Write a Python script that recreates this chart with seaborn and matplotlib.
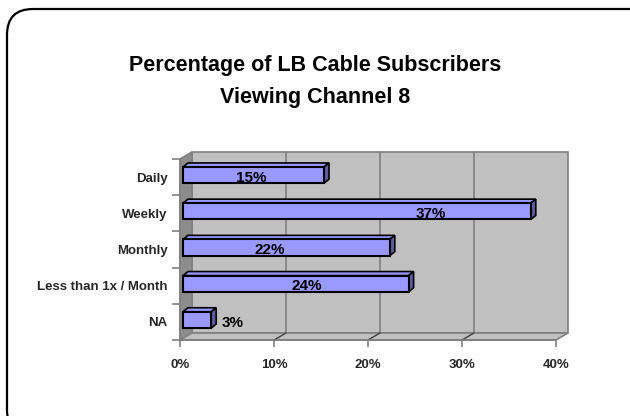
import numpy as np
import pandas as pd
import seaborn as sns
import matplotlib.pyplot as plt
from matplotlib.patches import Polygon, FancyBboxPatch
from matplotlib.transforms import ScaledTranslation

#------------------------------------------------------------------------------------

categories = ["Daily", "Weekly", "Monthly", "Less than 1x / Month", "NA"]
values = [15, 37, 22, 24, 3]
value_labels = ["15%", "37%", "22%", "24%", "3%"]
x_ticks = [0, 10, 20, 30, 40]
x_tick_labels = ["0%", "10%", "20%", "30%", "40%"]
title_lines = ["Percentage of LB Cable Subscribers", "Viewing Channel 8"]

# where Excel put each value label (data units along x)
label_x = [7.6, 26.7, 9.6, 13.5, 5.6]

BAR = "#9999FF"
BAR_SIDE = "#5C5C9E"
WALL = "#C0C0C0"
WALL_DARK = "#8C8C8C"
GRID = "#808080"

sns.set_theme(style="white")
plt.rcParams["font.family"] = ["Liberation Sans", "DejaVu Sans"]
plt.rcParams["font.weight"] = "bold"

W, H = 630, 416
fig = plt.figure(figsize=(W / 100, H / 100), dpi=100)

# rounded frame around the chart, drawn in pixel units
frame_ax = fig.add_axes([0, 0, 1, 1])
frame_ax.set_xlim(0, W)
frame_ax.set_ylim(0, H)
frame_ax.axis("off")
frame_ax.add_patch(FancyBboxPatch(
    (7, -20), 650, H - 9 + 20, boxstyle="round,pad=0,rounding_size=26",
    fc="none", ec="black", lw=1.6
))

for line, ypx in zip(title_lines, [65, 98]):
    fig.text(0.5, (H - ypx) / H, line, ha="center", va="center", fontsize=15.5,
             fontweight="bold", color="black")

# front plane of the 3D plot
x0_px, x1_px, top_px, bot_px = 180, 556, 159, 340
ax = fig.add_axes([x0_px / W, (H - bot_px) / H, (x1_px - x0_px) / W, (bot_px - top_px) / H])
ax.patch.set_visible(False)

df = pd.DataFrame({"category": categories, "value": values})
sns.barplot(data=df, x="value", y="category", orient="h", color=BAR,
            saturation=1, width=0.45, edgecolor="black", linewidth=1.5, ax=ax, zorder=5)

ax.set_xlim(0, 40)
ax.set_ylim(len(categories) - 0.5, -0.5)

# pixel -> data conversion helpers
ppx = (x1_px - x0_px) / 40.0
ppy = (bot_px - top_px) / float(len(categories))
def dx(px):
    return px / ppx
def dy(px):
    # y axis is inverted: moving up on screen is negative in data
    return -px / ppy

depth_x, depth_y = 12, 7
ylo, yhi = len(categories) - 0.5, -0.5

# back wall, left wall, floor
ax.add_patch(Polygon([(dx(depth_x), ylo + dy(depth_y)), (40 + dx(depth_x), ylo + dy(depth_y)),
                      (40 + dx(depth_x), yhi + dy(depth_y)), (dx(depth_x), yhi + dy(depth_y))],
                     fc=WALL, ec=GRID, lw=1.2, zorder=1, clip_on=False))
ax.add_patch(Polygon([(0, ylo), (dx(depth_x), ylo + dy(depth_y)),
                      (dx(depth_x), yhi + dy(depth_y)), (0, yhi)],
                     fc=WALL_DARK, ec=GRID, lw=1.2, zorder=1, clip_on=False))
ax.add_patch(Polygon([(0, ylo), (40, ylo), (40 + dx(depth_x), ylo + dy(depth_y)),
                      (dx(depth_x), ylo + dy(depth_y))],
                     fc=WALL, ec=GRID, lw=1.2, zorder=1, clip_on=False))

# gridlines on the back wall and floor
for t in x_ticks[1:-1]:
    ax.plot([t + dx(depth_x)] * 2, [ylo + dy(depth_y), yhi + dy(depth_y)],
            color=GRID, lw=1.2, zorder=2, clip_on=False)
    ax.plot([t, t + dx(depth_x)], [ylo, ylo + dy(depth_y)],
            color="#404040", lw=1.0, zorder=2, clip_on=False)

# 3D faces for the bars, then shift bars slightly back into the scene
shift = ScaledTranslation(3 / 100, 2 / 100, fig.dpi_scale_trans)
bd_x, bd_y = 5, 4
for p in ax.patches:
    if p.get_zorder() != 5:
        continue
    bx0, by0 = p.get_x(), p.get_y()
    bx1, by1 = bx0 + p.get_width(), by0 + p.get_height()
    ytop = min(by0, by1)
    ybot = max(by0, by1)
    top = Polygon([(bx0, ytop), (bx1, ytop), (bx1 + dx(bd_x), ytop + dy(bd_y)),
                   (bx0 + dx(bd_x), ytop + dy(bd_y))],
                  fc=BAR, ec="black", lw=1.2, zorder=4, clip_on=False)
    side = Polygon([(bx1, ytop), (bx1 + dx(bd_x), ytop + dy(bd_y)),
                    (bx1 + dx(bd_x), ybot + dy(bd_y)), (bx1, ybot)],
                   fc=BAR_SIDE, ec="black", lw=1.2, zorder=4, clip_on=False)
    for q in (top, side):
        ax.add_patch(q)
        q.set_transform(ax.transData + shift)
    p.set_transform(ax.transData + shift)

for i, (lx, lab) in enumerate(zip(label_x, value_labels)):
    ax.text(lx, i + 0.02, lab, ha="center", va="center", fontsize=11,
            fontweight="bold", color="black", zorder=8)

# axes, ticks
for s in ["top", "right"]:
    ax.spines[s].set_visible(False)
for s in ["left", "bottom"]:
    ax.spines[s].set_color(GRID)
    ax.spines[s].set_linewidth(1.2)
    ax.spines[s].set_zorder(3)

ax.set_xticks(x_ticks)
ax.set_xticklabels(x_tick_labels, fontsize=9.5, fontweight="bold")
ax.set_yticks(range(len(categories)))
ax.set_yticklabels(categories, fontsize=9.5, fontweight="bold")
ax.set_yticks(np.arange(-0.5, len(categories)), minor=True)
ax.tick_params(axis="x", which="major", length=5, width=1.2, color=GRID,
               direction="out", pad=9, bottom=True)
ax.tick_params(axis="y", which="major", length=0, pad=9)
ax.tick_params(axis="y", which="minor", length=6, width=1.2, color=GRID,
               direction="out", left=True)
ax.set_xlabel("")
ax.set_ylabel("")

fig.savefig("out.png", dpi=100)
